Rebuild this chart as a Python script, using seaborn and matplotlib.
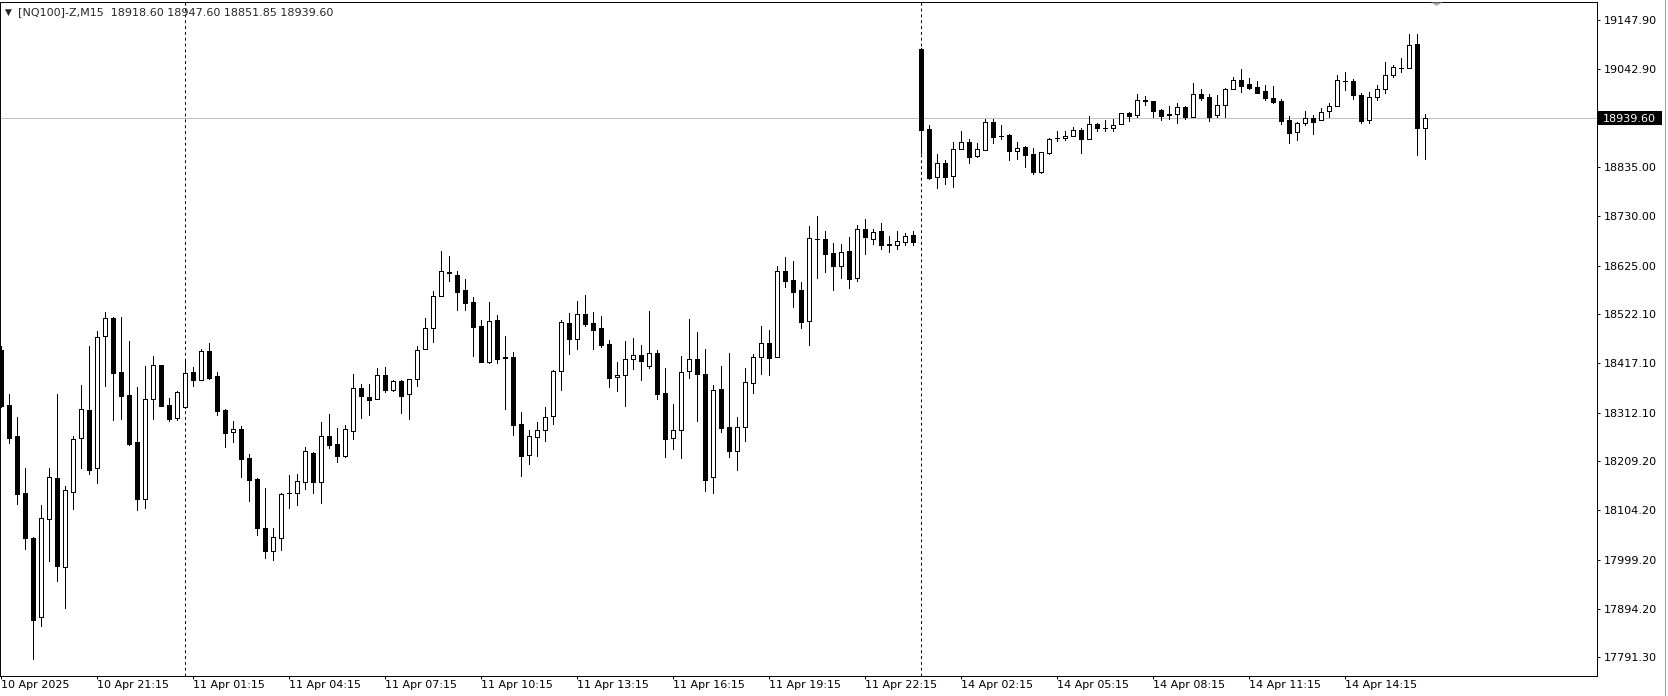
import numpy as np
import pandas as pd
import matplotlib
matplotlib.use("Agg")
import matplotlib.pyplot as plt
import matplotlib.transforms as mtransforms
from matplotlib.lines import Line2D
from matplotlib.patches import Rectangle
import seaborn as sns

symbol = "[NQ100]-Z,M15"

# trading sessions of 15 minute bars shown on the chart
sessions = [("2025-04-10 18:15", "2025-04-10 23:45"),
            ("2025-04-11 01:00", "2025-04-11 23:45"),
            ("2025-04-14 01:00", "2025-04-14 16:45")]

open_ = [18445.4, 18327.6, 18262.3, 18140.3, 18044.5, 17876.3, 18086.3, 18172.2, 17982.7, 18142.4,
         18257.3, 18316.9, 18193.5, 18474.5, 18512.8, 18398.6, 18349.6, 18249.6, 18127.8, 18340.4,
         18412.8, 18327.6, 18300.0, 18324.8, 18398.6, 18380.8, 18442.6, 18389.4, 18317.7, 18270.2,
         18276.6, 18214.8, 18170.8, 18065.8, 18018.3, 18044.5, 18140.3, 18140.3, 18163.7, 18225.5,
         18165.2, 18261.7, 18245.3, 18220.5, 18273.7, 18364.5, 18345.4, 18340.4, 18391.5, 18361.0,
         18379.4, 18352.5, 18383.0, 18446.9, 18491.6, 18559.7, 18611.0, 18605.1, 18572.5, 18547.6,
         18496.5, 18419.2, 18509.3, 18429.8, 18430.5, 18287.2, 18221.2, 18259.5, 18274.4, 18304.2,
         18400.0, 18502.2, 18468.1, 18521.4, 18502.2, 18491.6, 18457.5, 18387.2, 18391.5, 18425.6,
         18434.1, 18412.1, 18438.3, 18353.2, 18257.4, 18275.8, 18400.0, 18425.6, 18394.3, 18175.8,
         18362.4, 18281.5, 18231.1, 18280.8, 18375.9, 18429.8, 18459.6, 18429.8, 18612.9, 18593.7,
         18572.4, 18506.4, 18681.0, 18681.7, 18651.2, 18623.5, 18655.5, 18598.0, 18702.3, 18682.0,
         18698.7, 18670.0, 18668.0, 18676.0, 18689.5, 19086.2, 18915.1, 18813.0, 18842.8, 18816.5,
         18872.6, 18887.5, 18859.1, 18870.5, 18930.0, 18901.7, 18902.4, 18868.3, 18876.8, 18861.9,
         18825.0, 18865.5, 18897.4, 18897.4, 18900.2, 18913.7, 18895.3, 18925.8, 18918.7, 18917.3,
         18925.8, 18949.9, 18946.4, 18976.6, 18974.8, 18955.6, 18947.1, 18947.1, 18962.0, 18942.1,
         18989.7, 18983.3, 18945.0, 18966.2, 19000.3, 19019.5, 19010.9, 19004.6, 18996.8, 18981.9,
         18975.5, 18935.0, 18908.8, 18927.9, 18938.6, 18934.3, 18953.5, 18964.1, 19018.5, 19018.0,
         18987.5, 18934.3, 18983.3, 19000.3, 19030.1, 19046.4, 19045.0, 19096.1, 18918.60]

high = [18453.9, 18351.7, 18302.8, 18194.2, 18048.0, 18115.4, 18194.2, 18351.7, 18155.2, 18262.3,
        18370.2, 18453.9, 18485.8, 18526.3, 18516.3, 18515.0, 18464.6, 18366.6, 18411.4, 18432.7,
        18413.5, 18343.2, 18358.1, 18422.0, 18409.2, 18446.8, 18460.3, 18398.6, 18320.5, 18294.3,
        18283.7, 18224.0, 18173.0, 18151.7, 18066.5, 18140.3, 18179.3, 18181.5, 18239.0, 18227.6,
        18292.2, 18309.2, 18278.7, 18285.1, 18394.3, 18373.1, 18373.1, 18407.1, 18409.2, 18381.6,
        18381.6, 18383.7, 18453.9, 18513.6, 18571.0, 18656.2, 18645.5, 18613.6, 18596.6, 18558.3,
        18509.3, 18547.6, 18519.9, 18475.2, 18441.2, 18312.7, 18274.4, 18291.4, 18324.1, 18402.9,
        18508.6, 18524.2, 18549.7, 18562.5, 18526.3, 18517.8, 18466.0, 18419.9, 18464.6, 18470.3,
        18456.1, 18528.5, 18444.7, 18407.1, 18330.5, 18432.7, 18511.4, 18483.7, 18447.6, 18370.9,
        18411.4, 18439.0, 18302.8, 18407.1, 18436.2, 18496.5, 18488.0, 18624.2, 18643.4, 18634.9,
        18590.2, 18709.4, 18730.7, 18698.8, 18673.2, 18671.1, 18686.0, 18711.5, 18724.3, 18703.0,
        18715.8, 18688.1, 18698.7, 18693.7, 18698.7, 19088.0, 18923.7, 18861.9, 18849.2, 18887.5,
        18911.6, 18894.6, 18885.3, 18936.4, 18936.4, 18923.7, 18904.5, 18887.5, 18879.0, 18874.7,
        18867.5, 18896.7, 18911.6, 18911.6, 18920.1, 18917.3, 18943.5, 18928.6, 18935.0, 18936.4,
        18949.2, 18952.8, 18990.4, 18986.1, 18974.8, 18957.7, 18964.1, 18971.2, 18964.1, 19013.1,
        19001.0, 18990.4, 18988.2, 19003.1, 19026.6, 19042.9, 19023.7, 19017.3, 19009.5, 19007.4,
        18979.0, 18942.8, 18930.1, 18954.2, 18945.7, 18959.9, 18970.5, 19030.8, 19037.2, 19021.6,
        18992.5, 18994.6, 19008.8, 19057.8, 19051.4, 19066.3, 19117.4, 19117.4, 18947.60]

low = [18324.8, 18248.1, 18117.5, 18022.5, 17788.0, 17857.8, 17996.2, 17954.3, 17896.9, 18107.6,
       18194.9, 18182.1, 18163.0, 18368.7, 18296.4, 18299.3, 18243.2, 18105.1, 18110.0, 18299.3,
       18326.0, 18295.0, 18295.7, 18322.0, 18369.5, 18380.8, 18383.7, 18307.8, 18239.7, 18250.3,
       18175.8, 18124.7, 18052.3, 18003.4, 17998.4, 18019.7, 18109.8, 18116.2, 18150.3, 18141.0,
       18120.4, 18237.5, 18207.7, 18218.4, 18256.0, 18301.4, 18307.8, 18340.4, 18356.7, 18358.9,
       18312.0, 18299.3, 18369.5, 18446.9, 18463.2, 18559.7, 18593.0, 18531.3, 18531.3, 18433.4,
       18419.2, 18417.0, 18418.5, 18320.5, 18265.2, 18177.9, 18203.5, 18220.5, 18252.4, 18288.6,
       18361.0, 18437.6, 18448.3, 18497.2, 18448.3, 18452.5, 18367.4, 18358.9, 18326.9, 18405.7,
       18382.3, 18407.8, 18340.4, 18218.3, 18235.4, 18216.2, 18386.5, 18295.0, 18146.0, 18141.7,
       18271.6, 18218.4, 18190.0, 18252.4, 18354.6, 18395.0, 18392.2, 18429.8, 18580.2, 18537.7,
       18493.0, 18456.1, 18599.4, 18611.5, 18573.9, 18599.4, 18578.1, 18593.0, 18650.5, 18672.0,
       18660.0, 18655.0, 18660.0, 18670.0, 18668.0, 18864.1, 18810.0, 18791.0, 18799.5, 18793.1,
       18872.6, 18844.2, 18857.0, 18870.5, 18886.8, 18893.9, 18849.9, 18852.7, 18835.7, 18820.8,
       18822.5, 18863.3, 18889.6, 18891.7, 18900.2, 18865.5, 18893.9, 18912.3, 18912.3, 18910.9,
       18925.8, 18933.6, 18940.7, 18967.0, 18942.1, 18935.7, 18937.2, 18927.9, 18936.4, 18942.1,
       18978.3, 18933.6, 18942.1, 18942.1, 19000.3, 18995.3, 19001.7, 18993.2, 18976.9, 18970.5,
       18927.2, 18886.8, 18893.2, 18923.7, 18905.9, 18934.3, 18942.1, 18964.1, 18998.2, 18979.0,
       18929.3, 18927.9, 18976.9, 18991.8, 19026.6, 19036.5, 19045.0, 18859.8, 18851.85]

close = [18326.2, 18258.8, 18139.5, 18045.9, 17871.3, 18087.0, 18174.3, 17986.3, 18146.6, 18255.2,
         18319.1, 18190.6, 18472.3, 18512.8, 18397.1, 18347.5, 18246.0, 18127.8, 18341.1, 18412.8,
         18326.9, 18299.3, 18355.3, 18395.8, 18380.8, 18442.6, 18385.8, 18316.3, 18269.4, 18276.6,
         18214.1, 18169.4, 18067.2, 18018.3, 18046.6, 18138.9, 18141.0, 18165.9, 18230.4, 18165.2,
         18261.7, 18243.9, 18219.8, 18276.5, 18363.8, 18348.2, 18339.7, 18391.5, 18361.0, 18378.7,
         18348.2, 18383.7, 18445.4, 18491.6, 18559.7, 18612.9, 18609.5, 18569.6, 18544.8, 18495.1,
         18420.6, 18507.2, 18425.6, 18428.5, 18285.1, 18220.5, 18261.6, 18274.4, 18302.1, 18400.7,
         18504.3, 18469.6, 18521.4, 18501.5, 18488.7, 18456.8, 18386.5, 18391.5, 18425.6, 18434.1,
         18421.3, 18438.3, 18352.5, 18256.7, 18274.4, 18397.9, 18425.6, 18393.6, 18168.7, 18359.6,
         18280.1, 18231.1, 18281.5, 18376.6, 18429.8, 18459.6, 18429.1, 18612.9, 18593.0, 18569.6,
         18505.7, 18683.1, 18681.5, 18650.5, 18623.5, 18653.3, 18597.3, 18702.3, 18686.7, 18697.3,
         18668.0, 18671.0, 18678.0, 18688.8, 18675.0, 18913.7, 18812.3, 18842.8, 18814.4, 18872.6,
         18887.5, 18857.0, 18872.6, 18930.0, 18899.5, 18901.0, 18868.3, 18874.7, 18861.2, 18824.3,
         18866.2, 18894.6, 18897.0, 18900.2, 18913.0, 18895.3, 18925.8, 18918.7, 18918.0, 18923.7,
         18949.2, 18944.2, 18976.9, 18976.2, 18954.9, 18944.2, 18946.7, 18962.0, 18942.1, 18989.7,
         18982.6, 18942.1, 18966.2, 19000.3, 19019.5, 19008.1, 19003.9, 18993.2, 18982.6, 18974.0,
         18933.6, 18908.1, 18927.9, 18938.6, 18931.5, 18951.3, 18964.1, 19019.5, 19018.0, 18987.5,
         18933.6, 18983.3, 19000.3, 19030.1, 19047.1, 19046.0, 19094.0, 18917.3, 18939.60]

price_ticks = [19147.90, 19042.90, 18835.00, 18730.00, 18625.00, 18522.10, 18417.10,
               18312.10, 18209.20, 18104.20, 17999.20, 17894.20, 17791.30]

# build the bar table
times = pd.DatetimeIndex(np.concatenate(
    [pd.date_range(a, b, freq="15min").values for a, b in sessions]))
df = pd.DataFrame({"time": times, "open": open_, "high": high, "low": low, "close": close})
df["bar"] = np.arange(len(df))
df["up"] = df["close"] >= df["open"]

sns.set_theme(style="white")
plt.rcParams["font.family"] = ["DejaVu Sans"]
plt.rcParams["font.size"] = 8

W, H = 1668, 696
fig = plt.figure(figsize=(W / 100, H / 100), dpi=100)
fig.patch.set_facecolor("white")
ax = fig.add_axes([0, 20 / H, 1596.7 / W, 674.3 / H])
ax.set_facecolor("white")

# day separators (dashed) and last price line
new_day = df["time"].dt.date != df["time"].dt.date.shift()
for b in df.loc[new_day, "bar"].iloc[1:]:
    ax.axvline(b, color="black", lw=0.7, linestyle=(0, (3, 3)), zorder=1)
last = df.iloc[-1]
ax.axhline(last["close"], color="#c0c0c0", lw=0.7, zorder=1)

# candles
ax.vlines(df["bar"], df["low"], df["high"], colors="black", linewidth=0.6,
          antialiased=False, zorder=2)
body_lo = np.minimum(df["open"], df["close"])
body_h = (df["close"] - df["open"]).abs()
ax.bar(df["bar"], body_h, bottom=body_lo, width=0.5,
       color=np.where(df["up"], "white", "black"), edgecolor="black",
       linewidth=0.6, antialiased=False, zorder=3)

ax.set_xlim(-0.0875, 199.5)
ax.set_ylim(17751.5, 19186.9)

# price axis on the right
ax.yaxis.tick_right()
ax.set_yticks(price_ticks)
ax.set_yticklabels([f"{v:.2f}" for v in price_ticks])
ax.tick_params(axis="y", direction="out", length=2.2, width=0.7, pad=2.6,
               labelsize=8, colors="black", right=True, left=False)

# time axis
label_bars = df["bar"].iloc[::12]
labels = [df["time"].iloc[0].strftime("%d %b %Y")]
labels += [df["time"].iloc[b].strftime("%d %b %H:%M") for b in label_bars[1:]]
ax.set_xticks(label_bars)
ax.set_xticklabels(labels, ha="left")
ax.tick_params(axis="x", direction="out", length=2.4, width=0.7, pad=0.8,
               labelsize=8, colors="black", bottom=True)

for s in ax.spines.values():
    s.set_color("black")
    s.set_linewidth(0.7)
ax.grid(False)

# last price label box
blend = mtransforms.blended_transform_factory(ax.transAxes, ax.transData)
ax.add_patch(Rectangle((1.0008, last["close"] - 14.2), 0.0401, 28.4, transform=blend,
                       facecolor="black", edgecolor="none", clip_on=False, zorder=5))
ax.text(1.00413, last["close"], f"{last['close']:.2f}", transform=blend, color="white",
        ha="left", va="center_baseline", fontsize=8, clip_on=False, zorder=6)

# chart shift marker at the top
blend_x = mtransforms.blended_transform_factory(ax.transData, ax.transAxes)
ax.plot([len(df) + 0.4], [0.999], marker=[(-1, 0), (1, 0), (0, -0.6)], ms=8,
        color="#a8a8a8", markeredgewidth=0, transform=blend_x, clip_on=False, zorder=6)

# header with symbol and last bar OHLC
fig.text(5 / W, 1 - 12 / H, "\u25bc", fontsize=6.5, va="center", ha="left")
header = f"{symbol}  {last['open']:.2f} {last['high']:.2f} {last['low']:.2f} {last['close']:.2f}"
fig.text(18 / W, 1 - 12 / H, header, fontsize=8, va="center", ha="left")

fig.add_artist(Line2D([1665 / W, 1665 / W], [0, 1], color="#a0a0a0", lw=0.7))

fig.savefig("out.png", dpi=100)
